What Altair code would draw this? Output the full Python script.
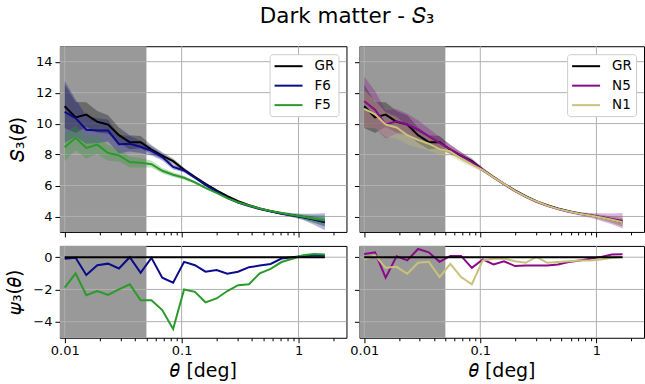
import altair as alt
import pandas as pd

# ---------------- data ----------------
theta = [0.01, 0.0124, 0.0153, 0.019, 0.0235, 0.0291, 0.036, 0.0446, 0.0552, 0.0683,
         0.0846, 0.105, 0.130, 0.160, 0.199, 0.246, 0.304, 0.377, 0.466, 0.577,
         0.715, 0.885, 1.096, 1.357, 1.68]

s3_gr = [11.12, 10.40, 10.58, 10.12, 9.94, 9.25, 8.80, 8.80, 8.32, 7.93,
         7.57, 7.02, 6.55, 6.11, 5.68, 5.31, 4.99, 4.73, 4.51, 4.34,
         4.19, 4.08, 3.95, 3.80, 3.63]
err_gr = [1.4, 1.0, 0.8, 0.7, 0.6, 0.5, 0.45, 0.4, 0.3, 0.22,
          0.17, 0.13, 0.10, 0.08, 0.07, 0.06, 0.06, 0.06, 0.06, 0.07,
          0.08, 0.10, 0.14, 0.20, 0.28]

s3_f6 = [10.76, 10.35, 9.60, 9.55, 9.55, 8.67, 8.70, 8.50, 8.24, 7.84,
         7.20, 6.97, 6.50, 6.04, 5.60, 5.20, 4.90, 4.68, 4.48, 4.33,
         4.19, 4.08, 3.97, 3.82, 3.66]
err_f6 = [2.0, 1.2, 0.9, 0.8, 0.7, 0.6, 0.5, 0.4, 0.3, 0.22,
          0.17, 0.13, 0.10, 0.08, 0.07, 0.06, 0.06, 0.06, 0.07, 0.08,
          0.10, 0.13, 0.20, 0.35, 0.55]

s3_f5 = [8.47, 9.08, 8.43, 8.64, 8.10, 7.95, 7.52, 7.47, 7.38, 6.95,
         6.70, 6.50, 6.20, 5.85, 5.52, 5.18, 4.92, 4.71, 4.51, 4.35,
         4.22, 4.10, 3.98, 3.85, 3.74]
err_f5 = [0.9, 0.8, 0.7, 0.6, 0.5, 0.4, 0.35, 0.3, 0.22, 0.18,
          0.15, 0.12, 0.10, 0.08, 0.07, 0.06, 0.06, 0.06, 0.06, 0.07,
          0.08, 0.10, 0.15, 0.25, 0.35]

s3_n5 = [11.44, 10.90, 9.94, 10.15, 9.94, 9.61, 9.18, 8.75, 8.35, 7.94,
         7.52, 7.02, 6.52, 6.08, 5.64, 5.27, 4.95, 4.69, 4.48, 4.31,
         4.17, 4.07, 3.96, 3.84, 3.72]
err_n5 = [1.6, 1.2, 0.9, 0.8, 0.7, 0.6, 0.5, 0.4, 0.3, 0.22,
          0.17, 0.13, 0.10, 0.08, 0.07, 0.06, 0.06, 0.06, 0.07, 0.08,
          0.10, 0.15, 0.25, 0.35, 0.50]

s3_n1 = [10.95, 10.60, 9.94, 9.75, 9.25, 8.95, 8.70, 8.35, 8.20, 7.72,
         7.35, 7.00, 6.53, 6.10, 5.66, 5.28, 4.98, 4.70, 4.49, 4.32,
         4.17, 4.06, 3.93, 3.79, 3.63]
err_n1 = [1.2, 0.9, 0.8, 0.7, 0.6, 0.5, 0.45, 0.4, 0.3, 0.22,
          0.17, 0.13, 0.10, 0.08, 0.07, 0.06, 0.06, 0.06, 0.06, 0.07,
          0.08, 0.10, 0.14, 0.20, 0.30]

psi_gr = [0, 0, 0, 0, 0, 0, 0, 0, 0, 0, 0, 0, 0, 0, 0, 0, 0, 0, 0, 0, 0, 0, 0, 0, 0]
psi_f6 = [-0.10, -0.04, -1.10, -0.50, -0.40, -0.70, 0.00, -0.97, -0.04, -1.27,
          -1.58, -0.29, -0.50, -0.90, -0.80, -1.03, -0.90, -0.62, -0.52, -0.42,
          -0.08, 0.00, 0.08, 0.10, 0.10]
psi_f5 = [-1.89, -1.00, -2.36, -2.10, -2.34, -2.00, -1.68, -2.67, -2.67, -3.28,
          -4.45, -2.00, -2.15, -2.80, -2.56, -2.10, -1.74, -1.68, -1.00, -0.72,
          -0.30, -0.10, 0.12, 0.20, 0.16]
psi_n5 = [0.20, 0.30, -1.27, 0.06, -0.20, 0.51, 0.30, -0.29, 0.08, 0.08,
          -0.66, -0.14, -0.45, -0.25, -0.55, -0.51, -0.51, -0.51, -0.45, -0.30,
          -0.20, -0.10, 0.02, 0.16, 0.18]
psi_n1 = [-0.14, 0.12, -0.66, -0.60, -1.03, -0.35, -0.29, -1.23, -0.41, -1.23,
          -1.68, -0.20, -0.10, -0.08, -0.25, -0.35, 0.02, -0.35, -0.30, -0.25,
          -0.20, -0.20, -0.14, -0.04, 0.02]

x_ticks = [0.01, 0.02, 0.03, 0.04, 0.05, 0.06, 0.07, 0.08, 0.09,
           0.1, 0.2, 0.3, 0.4, 0.5, 0.6, 0.7, 0.8, 0.9, 1, 2]
x_major = [0.01, 0.1, 1]
y_top_ticks = [4, 6, 8, 10, 12, 14]
y_bot_ticks = [-4, -2, 0]
x_domain = [0.0091, 2.57]
mask_edge = [0.05]

# ---------------- style ----------------
FONT = "DejaVu Sans"
SHADE = "#999999"
GRID = "#b0b0b0"
W_L, W_R = 287, 285
H_TOP, H_BOT = 186, 92
MAJOR_TEST = "indexof([0.01, 0.1, 1], datum.value) >= 0"


def x_axis(labels, title):
    kw = dict(values=x_ticks, grid=False, domain=False, labelOverlap=False,
              labelFlush=False,
              tickSize={"condition": {"test": MAJOR_TEST, "value": 5}, "value": 3})
    if labels:
        kw["labelExpr"] = MAJOR_TEST + " ? format(datum.value, '~g') : ''"
        kw["title"] = title
        kw["titlePadding"] = 4
    else:
        kw["labels"] = False
        kw["title"] = None
    return alt.Axis(**kw)


def y_axis(values, labels, title):
    kw = dict(values=values, grid=False, domain=False, tickSize=5, labelPadding=3)
    if labels:
        kw["title"] = title
        kw["titlePadding"] = 8
    else:
        kw["labels"] = False
        kw["title"] = None
    return alt.Axis(**kw)


def panel(series, width, height, ydom, yticks, show_y, ytitle, bottom, legend, bands):
    names = [s[0] for s in series]
    colors = [s[3] for s in series]
    rows = []
    for name, vals, errs, col in series:
        for i, (t, v) in enumerate(zip(theta, vals)):
            e = errs[i] if errs is not None else 0
            rows.append({"theta": t, "val": v, "lo": v - e, "hi": v + e, "series": name})
    df = pd.DataFrame(rows)
    xsc = alt.Scale(type="log", domain=x_domain, nice=False)
    ysc = alt.Scale(domain=ydom, nice=False, zero=False)
    cs = alt.Scale(domain=names, range=colors)
    xa = x_axis(bottom, "𝜃 [deg]")
    ya = y_axis(yticks, show_y, ytitle)

    span = alt.Chart(pd.DataFrame({"a": [x_domain[0]], "b": mask_edge})).mark_rect(
        color=SHADE).encode(x=alt.X("a:Q", scale=xsc, axis=xa), x2="b:Q")
    vgrid = alt.Chart(pd.DataFrame({"g": x_major})).mark_rule(
        color=GRID, strokeWidth=1).encode(x=alt.X("g:Q", scale=xsc, axis=xa))
    hgrid = alt.Chart(pd.DataFrame({"g": yticks})).mark_rule(
        color=GRID, strokeWidth=1).encode(y=alt.Y("g:Q", scale=ysc, axis=ya))
    layers = [span, vgrid, hgrid]
    if bands:
        for name, vals, errs, col in series:
            band = alt.Chart(df).transform_filter(alt.datum.series == name).mark_area(
                color=col, opacity=0.3).encode(
                x=alt.X("theta:Q", scale=xsc, axis=xa),
                y=alt.Y("lo:Q", scale=ysc, axis=ya), y2="hi:Q")
            layers.append(band)
    if legend:
        leg = alt.Legend(orient="top-right", offset=8, title=None,
                         symbolType="M-1,0H3", symbolSize=196, symbolStrokeWidth=2,
                         labelFontSize=13.5, labelFont=FONT, padding=4,
                         fillColor="white", strokeColor="#cccccc", cornerRadius=3,
                         labelOffset=25, rowPadding=4.5)
    else:
        leg = None
    line = alt.Chart(df).mark_line(strokeWidth=2).encode(
        x=alt.X("theta:Q", scale=xsc, axis=xa),
        y=alt.Y("val:Q", scale=ysc, axis=ya),
        color=alt.Color("series:N", scale=cs, legend=leg),
        order="theta:Q")
    layers.append(line)
    return alt.layer(*layers).properties(width=width, height=height)


left_series = [("GR", s3_gr, err_gr, "black"), ("F6", s3_f6, err_f6, "#0b0b8c"),
               ("F5", s3_f5, err_f5, "#2a9a2a")]
right_series = [("GR", s3_gr, err_gr, "black"), ("N5", s3_n5, err_n5, "#8b0a8b"),
                ("N1", s3_n1, err_n1, "#c9c27a")]
left_psi = [("F6", psi_f6, None, "#0b0b8c"), ("F5", psi_f5, None, "#2a9a2a"),
            ("GR", psi_gr, None, "black")]
right_psi = [("N5", psi_n5, None, "#8b0a8b"), ("N1", psi_n1, None, "#c9c27a"),
             ("GR", psi_gr, None, "black")]

tl = panel(left_series, W_L, H_TOP, [3, 15], y_top_ticks, True, "𝑆₃(𝜃)", False, True, True)
tr = panel(right_series, W_R, H_TOP, [3, 15], y_top_ticks, False, None, False, True, True)
bl = panel(left_psi, W_L, H_BOT, [-5, 0.7], y_bot_ticks, True, "𝜓₃(𝜃)", True, False, False)
br = panel(right_psi, W_R, H_BOT, [-5, 0.7], y_bot_ticks, False, None, True, False, False)

chart = alt.concat(tl, tr, bl, br, columns=2, spacing={"row": 14, "column": 13},
                   bounds="flush").resolve_scale(color="independent").properties(
    title=alt.TitleParams("Dark matter - 𝑆₃", anchor="middle", dx=22, fontSize=21.5,
                          font=FONT, fontWeight="normal", color="black", offset=18),
    padding={"left": 5, "top": 5, "right": 0, "bottom": 0},
).configure_view(stroke="black", strokeWidth=1).configure_axis(
    labelFont=FONT, labelFontSize=13, labelColor="black", titleFont=FONT,
    titleFontSize=19, titleFontWeight="normal", titleColor="black",
    tickColor="black", tickWidth=1
).configure_legend(labelFont=FONT, labelColor="black")

chart.save("out.html", embed_options={"renderer": "svg", "actions": False})
